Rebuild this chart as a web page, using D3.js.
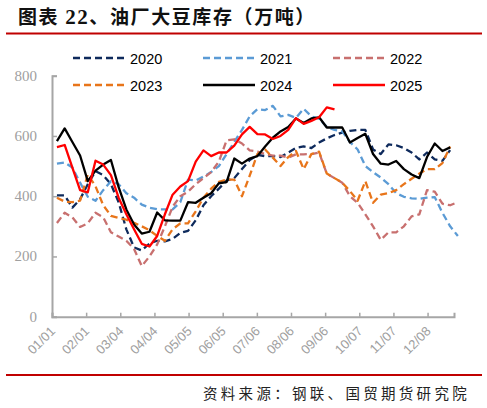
<!DOCTYPE html>
<html>
<head>
<meta charset="utf-8">
<script src="https://cdn.jsdelivr.net/npm/d3@7"></script>
<style>
  body { margin: 0; background: #fff; }
  svg { display: block; }
</style>
</head>
<body>
<svg></svg>
<script>
// weekly soybean stocks, 10k tonnes
var years = ["2020", "2021", "2022", "2023", "2024", "2025"];
var v2020 = [403,403,362,390,440,483,470,440,380,290,230,220,243,252,250,258,278,285,320,370,
  400,425,452,460,490,520,537,533,533,530,545,560,565,560,578,592,603,611,617,620,
  620,555,540,572,569,560,545,522,545,522,517,553];
var v2021 = [508,512,495,445,398,385,420,450,440,410,395,372,362,357,356,356,380,455,452,465,
  480,500,540,580,620,665,689,686,700,665,670,660,690,665,657,630,620,615,580,555,
  500,480,462,440,410,398,393,391,395,397,345,300,268];
var v2022 = [311,345,330,298,310,345,330,280,266,252,225,168,200,240,300,365,400,415,440,460,
  480,515,585,589,575,552,548,540,535,535,528,539,539,540,545,475,460,445,400,378,
  340,300,255,280,280,300,333,340,420,415,375,370,380];
var v2023 = [395,382,380,385,472,433,370,335,328,322,312,300,287,268,252,290,310,310,350,395,
  425,448,455,455,400,468,540,555,528,500,530,550,490,540,548,475,460,445,417,385,
  450,378,405,410,420,440,458,475,490,490,510,565];
var v2024 = [583,625,580,535,450,485,505,520,430,356,306,276,282,346,320,319,319,380,378,395,
  410,443,447,525,508,525,533,565,594,615,630,658,643,658,662,628,628,628,578,593,
  607,540,508,505,517,490,472,460,530,575,550,562];
var v2025 = [563,570,495,420,413,518,505,470,395,340,290,242,233,268,340,405,432,450,515,552,
  533,545,545,568,605,630,606,605,590,600,620,659,640,650,662,695,688];
var tickLabels = ["01/01","02/01","03/04","04/04","05/05","06/05","07/06","08/06","09/06","10/07","11/07","12/08"];
var tickDays = [0, 31, 62, 93, 124, 155, 186, 217, 248, 279, 310, 341];
var yTicks = [0, 200, 400, 600, 800];

var series = [
  {name: "2020", values: v2020, color: "#0e2a5c", dash: "7,4"},
  {name: "2021", values: v2021, color: "#5b9bd5", dash: "7,4"},
  {name: "2022", values: v2022, color: "#c8706f", dash: "7,4"},
  {name: "2023", values: v2023, color: "#e8751a", dash: "7,4"},
  {name: "2024", values: v2024, color: "#000000", dash: null},
  {name: "2025", values: v2025, color: "#ff0000", dash: null}
];

var width = 487, height = 408;
var svg = d3.select("svg").attr("width", width).attr("height", height);

// header / footer
var title = svg.append("text")
  .attr("x", 18).attr("y", 24)
  .attr("font-family", "'Noto Sans CJK SC', sans-serif")
  .attr("font-weight", "bold")
  .attr("font-size", 19)
  .attr("letter-spacing", 1.6)
  .attr("fill", "#111");
title.append("tspan").text("图表 ");
title.append("tspan").attr("font-family", "'Liberation Serif', serif").attr("font-size", 21).text("22");
title.append("tspan").text("、油厂大豆库存（万吨）");

svg.append("line").attr("x1", 6).attr("x2", 482).attr("y1", 33.5).attr("y2", 33.5)
  .attr("stroke", "#c00000").attr("stroke-width", 2);
svg.append("line").attr("x1", 6).attr("x2", 482).attr("y1", 375).attr("y2", 375)
  .attr("stroke", "#c00000").attr("stroke-width", 2);

svg.append("text")
  .attr("x", 470).attr("y", 399)
  .attr("text-anchor", "end")
  .attr("font-family", "'Noto Sans CJK SC', sans-serif")
  .attr("font-size", 14.5)
  .attr("letter-spacing", 3.3)
  .attr("fill", "#222")
  .text("资料来源：钢联、国贸期货研究院");

// scales
var x = d3.scaleLinear().domain([0, 365]).range([52, 454]);
var y = d3.scaleLinear().domain([0, 800]).range([316.7, 75.7]);
var dayOf = function(i) { return 4.5 + 7 * i; };

// y axis
var yAxis = svg.append("g")
  .attr("transform", "translate(52,0)")
  .call(d3.axisRight(y).tickValues(yTicks).tickSize(5).tickFormat(""));
yAxis.select(".domain").attr("stroke", "#a6a6a6").attr("stroke-width", 2);
yAxis.selectAll(".tick line").attr("stroke", "#a6a6a6").attr("stroke-width", 1.5);

svg.append("g").selectAll("text")
  .data(yTicks)
  .enter().append("text")
  .attr("x", 37)
  .attr("y", function(d) { return y(d) + 5; })
  .attr("text-anchor", "end")
  .attr("font-family", "'Liberation Serif', serif")
  .attr("font-size", 15)
  .attr("fill", "#a0a0a0")
  .text(function(d) { return d; });

// x axis
var xAxis = svg.append("g")
  .attr("transform", "translate(0,316.7)")
  .call(d3.axisTop(x).tickValues(tickDays).tickSize(4).tickFormat(""));
xAxis.select(".domain").attr("stroke", "#a6a6a6").attr("stroke-width", 2);
xAxis.selectAll(".tick line").attr("stroke", "#a6a6a6").attr("stroke-width", 1.5);

svg.append("g").selectAll("text")
  .data(tickDays)
  .enter().append("text")
  .attr("transform", function(d) { return "translate(" + (x(d) + 4) + ",332) rotate(-45)"; })
  .attr("text-anchor", "end")
  .attr("font-family", "'Liberation Sans', Arial, sans-serif")
  .attr("font-size", 13)
  .attr("fill", "#a0a0a0")
  .text(function(d, i) { return tickLabels[i]; });

// lines
var line = d3.line()
  .x(function(d, i) { return x(dayOf(i)); })
  .y(function(d) { return y(d); });

svg.append("g").selectAll("path")
  .data(series)
  .enter().append("path")
  .attr("d", function(s) { return line(s.values); })
  .attr("fill", "none")
  .attr("stroke", function(s) { return s.color; })
  .attr("stroke-width", 2.3)
  .attr("stroke-linejoin", "round")
  .attr("stroke-dasharray", function(s) { return s.dash; });

// legend
var legend = svg.append("g").selectAll("g")
  .data(series)
  .enter().append("g")
  .attr("transform", function(s, i) {
    return "translate(" + (73 + (i % 3) * 130) + "," + (58 + Math.floor(i / 3) * 27) + ")";
  });
legend.append("line")
  .attr("x1", 0).attr("x2", 52)
  .attr("stroke", function(s) { return s.color; })
  .attr("stroke-width", 2.3)
  .attr("stroke-dasharray", function(s) { return s.dash; });
legend.append("text")
  .attr("x", 57).attr("y", 5.5)
  .attr("font-family", "'Liberation Sans', Arial, sans-serif")
  .attr("font-size", 14.5)
  .attr("fill", "#000")
  .text(function(s) { return s.name; });
</script>
</body>
</html>
